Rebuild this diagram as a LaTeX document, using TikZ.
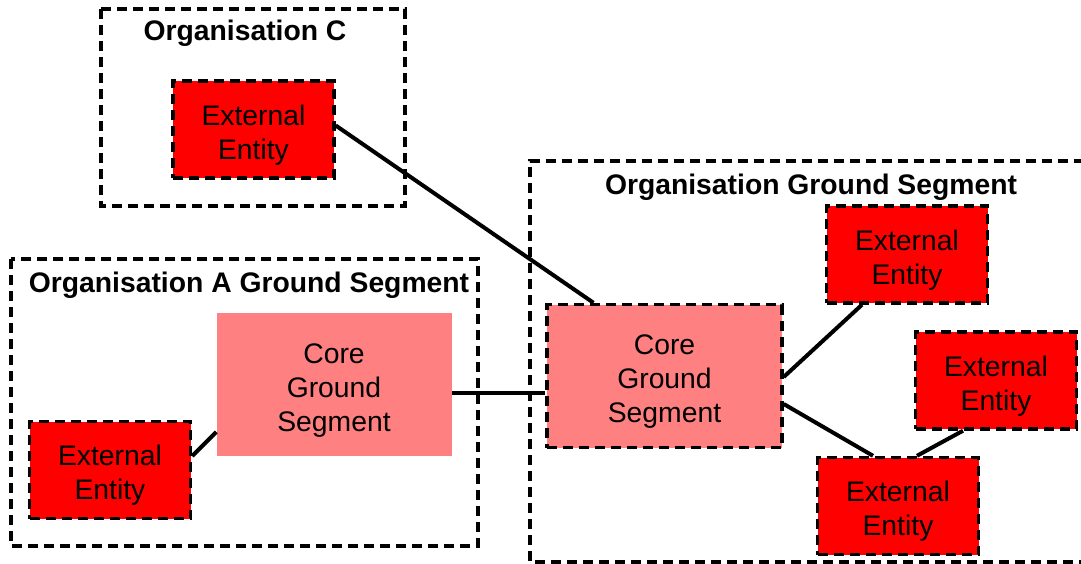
\documentclass[tikz,border=0pt]{standalone}
\usepackage{fontspec}
\setmainfont{Liberation Sans}
\usetikzlibrary{calc}
\definecolor{entred}{RGB}{255,0,0}
\definecolor{corepink}{RGB}{255,128,128}
\newcommand{\firstline}{\rule{0pt}{31pt}}
\tikzset{
  dashbd/.style={draw=black, line width=3.4pt, dash pattern=on 10pt off 6pt},
  orgbox/.style={dashbd},
  orgtitle/.style={font=\fontsize{28.3}{34}\selectfont\bfseries, anchor=base, inner sep=0pt},
  entity/.style={dashbd, fill=entred,
    minimum width=161pt, minimum height=97pt, inner sep=0pt, align=center,
    font=\fontsize{28.3}{34}\selectfont},
  corebox/.style={fill=corepink, minimum width=235pt, minimum height=143pt, inner sep=0pt,
    align=center, font=\fontsize{28.3}{34}\selectfont},
  link/.style={line width=4pt, draw=black}
}
\begin{document}
\begin{tikzpicture}[x=1pt, y=-1pt]
\useasboundingbox (0,0) rectangle (1081,564);
% organisation boxes
\draw[orgbox] (101,9) rectangle (405,206);
\draw[orgbox] (11,259) rectangle (478,546);
\draw[orgbox] (1100,161) -- (530,161) -- (530,562) -- (1100,562);
% titles
\node[orgtitle] (tc) at (245,41) {Organisation C};
\node[orgtitle] (ta) at (249,292) {Organisation A Ground Segment};
\node[orgtitle] (tg) at (811,194) {Organisation Ground Segment};
% nodes
\node[entity] (eeC) at (253.5,129.5) {\firstline External\\Entity};
\node[corebox] (ca) at (334,384.5) {\firstline Core\\Ground\\Segment};
\node[entity] (eeA) at (110,470) {\firstline External\\Entity};
\node[corebox, dashbd] (cg) at (664.5,376) {\firstline Core\\Ground\\Segment};
\node[entity] (e1) at (907,254.5) {\firstline External\\Entity};
\node[entity] (e2) at (996,380.5) {\firstline External\\Entity};
\node[entity] (e3) at (898,506) {\firstline External\\Entity};
% connectors
\draw[link] ($(eeC.east)+(0,-4)$) -- ($(cg.north)+(-71,0)$);
\draw[link] ($(ca.east)+(0,8.5)$) -- ($(cg.west)+(0,17)$);
\draw[link] ($(eeA.east)+(0,-14)$) -- ($(ca.west)+(0,47.5)$);
\draw[link] ($(cg.east)+(0,1)$) -- ($(e1.south)+(-45,0)$);
\draw[link] ($(cg.east)+(0,28)$) -- ($(e3.north)+(-25,0)$);
\draw[link] ($(e2.south)+(-33,0)$) -- ($(e3.north)+(19,0)$);
\end{tikzpicture}
\end{document}
